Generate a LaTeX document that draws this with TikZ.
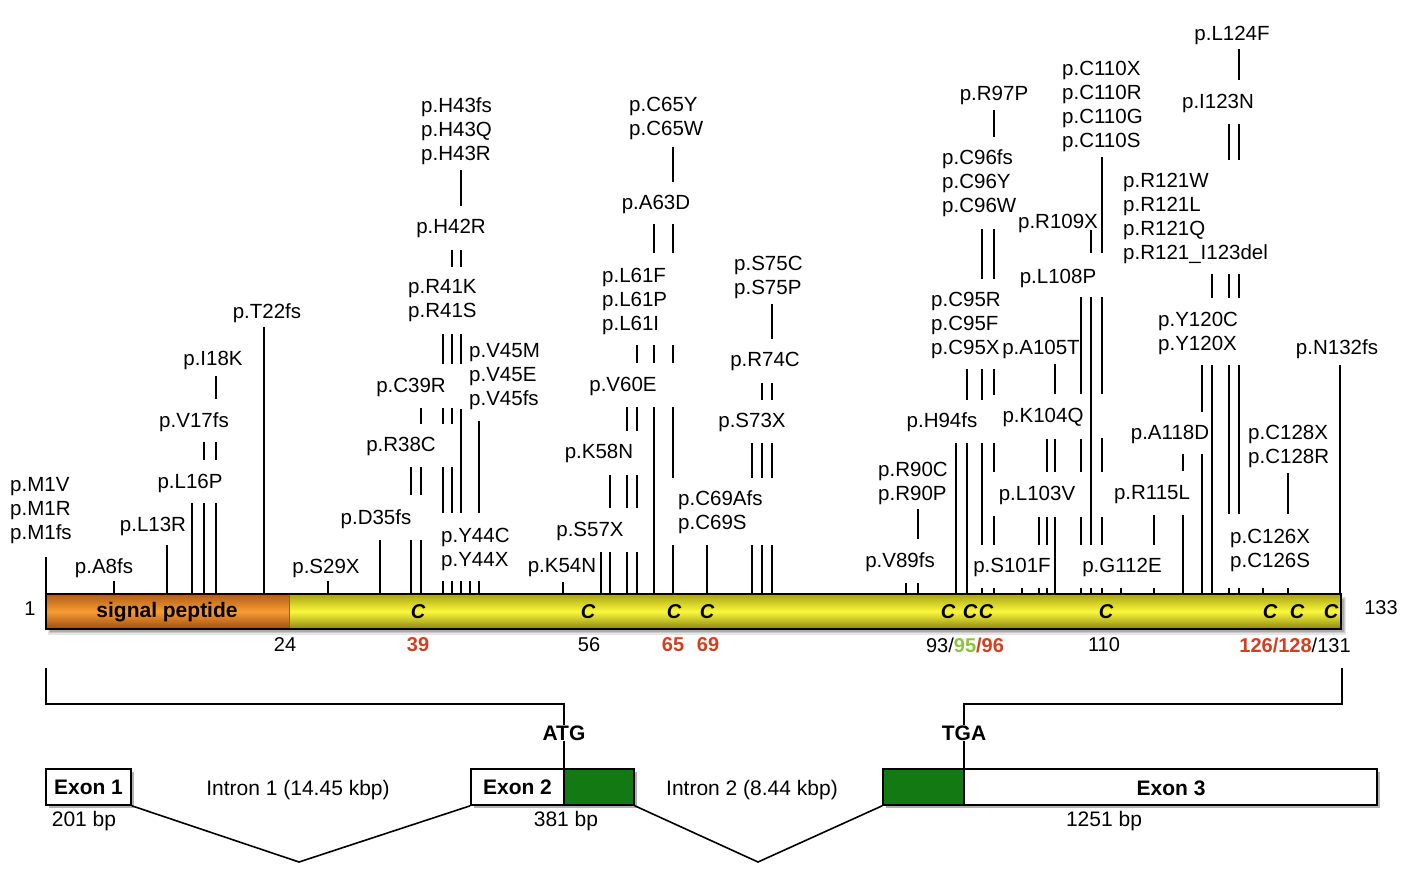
\documentclass[tikz,border=0pt]{standalone}
\usepackage{fontspec}
\setmainfont{Liberation Sans}
\usetikzlibrary{shadows}
\definecolor{redn}{HTML}{D2401F}
\definecolor{greenn}{HTML}{8CC43F}
\definecolor{exg}{HTML}{137A13}
\definecolor{ytop}{HTML}{A8A316}
\definecolor{ymid}{HTML}{FAF83C}
\definecolor{ybot}{HTML}{8C870E}
\definecolor{otop}{HTML}{B05C18}
\definecolor{omid}{HTML}{F89C32}
\definecolor{obot}{HTML}{9C4C10}
\begin{document}
\begin{tikzpicture}[x=1pt,y=-1pt,
  mline/.style={line width=2pt},
  lab/.style={font=\fontsize{20.5}{24}\selectfont, inner sep=0pt, yshift=-2pt},
  mlab/.style={lab, align=left, anchor=west},
  num/.style={font=\fontsize{20}{24}\selectfont, inner sep=0pt},
  rnum/.style={font=\fontsize{20}{24}\selectfont\bfseries, text=redn, inner sep=0pt},
  cys/.style={font=\fontsize{20}{24}\selectfont\bfseries\itshape, inner sep=0pt},
  glab/.style={font=\fontsize{21}{24}\selectfont, inner sep=0pt},
  gbold/.style={font=\fontsize{21}{24}\selectfont\bfseries, inner sep=0pt},
  exbox/.style={draw, line width=1.6pt, inner sep=0pt, minimum height=36pt,
    drop shadow={shadow xshift=3pt, shadow yshift=-3pt, opacity=0.3, fill=black}},
]
\useasboundingbox[fill=white] (0,0) rectangle (1410,872);

% ---------- mutation pointer lines ----------
\foreach \x/\a/\b in {
46/557/594, 113.5/581/594, 167/545/594, 192/503/594, 204/503/594, 204/442/460,
216/503/594, 216/442/460, 216/376/399, 264/327/594, 328/581/594,
380/540/594, 411/540/594, 411/467/495, 421/540/594, 421/467/495, 421/408/424,
443/581/594, 443/467/513, 443/408/424, 443/334/364,
452/581/594, 452/467/513, 452/408/424, 452/334/364, 452/250/267,
461/581/594, 461/409/513, 461/334/364, 461/250/267, 461/170/206,
470/581/594, 479/581/594, 479/421/513,
563/582/594, 601/552/594, 610/552/594, 610/475/508,
627/552/594, 627/475/508, 627/407/431,
637/552/594, 637/475/508, 637/407/431, 637/345/363,
654/407/594, 654/345/363, 654/224/253,
673/545/594, 673/407/478, 673/345/363, 673/224/253, 673/147/182,
707/545/594,
752/545/594, 752/443/478, 762/545/594, 762/443/478, 762/383/400,
772/545/594, 772/443/478, 772/383/400, 772/304/339,
906/583/594, 918/583/594, 918/509/539,
956/443/594, 967/443/594, 967/369/400,
982/443/545, 982/588/594, 982/369/400, 982/229/279,
994/588/594, 994/516/545, 994/443/472, 994/369/395, 994/229/279, 994/110/137,
1022/588/594, 1039/588/594, 1039/517/545,
1047/588/594, 1047/517/545, 1047/439/472,
1055/517/594, 1055/439/472, 1055/364/394,
1081/588/594, 1081/517/545, 1081/439/472, 1081/297/394,
1091/588/594, 1091/297/545, 1091/230/253,
1102/588/594, 1102/517/545, 1102/438/472, 1102/297/394, 1102/157/253,
1121/588/594, 1154/588/594, 1154/515/545,
1183/515/594, 1183/454/471,
1202/454/594, 1202/365/412,
1212/365/594, 1212/274/298,
1229/588/594, 1229/365/514, 1229/274/298, 1229/124/160,
1239/588/594, 1239/365/514, 1239/274/298, 1239/124/160, 1239/49/80,
1263/588/594, 1288/588/594, 1288/473/514, 1340/365/594}
  \draw[mline] (\x,\a) -- (\x,\b);

% ---------- protein bar ----------
\fill[black,opacity=0.10] (48,597) rectangle (1346,635);
\fill[black,opacity=0.12] (49,598) rectangle (1345,633);
\fill[black,opacity=0.15] (50,599) rectangle (1344,632);
\shade[top color=otop, bottom color=obot, middle color=omid] (46,594) rectangle (289,629);
\shade[top color=ytop, bottom color=ybot, middle color=ymid] (289,594) rectangle (1341,629);
\draw[line width=1pt, black!60] (289,594) -- (289,629);
\draw[line width=2.4pt] (46,594) rectangle (1341,629);
\node[font=\fontsize{21}{24}\selectfont\bfseries, inner sep=0pt] (sp) at (167,612) {signal peptide};

\foreach \x [count=\i] in {418,588,674,707,948,970,986,1106,1270,1297,1331}
  \node[cys] (c\i) at (\x,612) {C};

% ---------- position numbers ----------
\node[num] (n1) at (30,609) {1};
\node[num] (n133) at (1381,608) {133};
\node[num] (n24) at (285,645) {24};
\node[rnum] (n39) at (418,645) {39};
\node[num] (n56) at (589,645) {56};
\node[rnum] (n65) at (673,645) {65};
\node[rnum] (n69) at (708,645) {69};
\node[num] (n93) at (965,645) {93/\textcolor{greenn}{\bfseries 95}\textcolor{redn}{\bfseries /96}};
\node[num] (n110) at (1104,645) {110};
\node[num] (n126) at (1295,645) {\textcolor{redn}{\bfseries 126/128}/131};

% ---------- mutation labels ----------
\node[mlab] (m1) at (10,509) {p.M1V\\p.M1R\\p.M1fs};
\node[lab] (a8) at (104,566) {p.A8fs};
\node[lab] (l13) at (153,524) {p.L13R};
\node[lab] (l16) at (190,481) {p.L16P};
\node[lab] (v17) at (194,420) {p.V17fs};
\node[lab] (i18) at (213,358) {p.I18K};
\node[lab] (t22) at (267,311) {p.T22fs};
\node[lab] (s29) at (326,566) {p.S29X};
\node[lab] (d35) at (376,517) {p.D35fs};
\node[lab] (r38) at (401,444) {p.R38C};
\node[lab] (c39) at (411,385) {p.C39R};
\node[mlab] (r41) at (408,299) {p.R41K\\p.R41S};
\node[lab] (h42) at (451,226) {p.H42R};
\node[mlab] (h43) at (421,129) {p.H43fs\\p.H43Q\\p.H43R};
\node[mlab] (y44) at (441,547) {p.Y44C\\p.Y44X};
\node[mlab] (v45) at (469,375) {p.V45M\\p.V45E\\p.V45fs};
\node[lab] (k54) at (562,566) {p.K54N};
\node[lab] (s57) at (590,529) {p.S57X};
\node[lab] (k58) at (599,451) {p.K58N};
\node[lab] (v60) at (623,384) {p.V60E};
\node[mlab] (l61) at (602,299) {p.L61F\\p.L61P\\p.L61I};
\node[lab] (a63) at (656,202) {p.A63D};
\node[mlab] (c65) at (629,116) {p.C65Y\\p.C65W};
\node[mlab] (c69) at (678,510) {p.C69Afs\\p.C69S};
\node[lab] (s73) at (752,420) {p.S73X};
\node[lab] (r74) at (765,359) {p.R74C};
\node[mlab] (s75) at (734,275) {p.S75C\\p.S75P};
\node[lab] (v89) at (900,560) {p.V89fs};
\node[mlab] (r90) at (878,481) {p.R90C\\p.R90P};
\node[lab] (h94) at (942,420) {p.H94fs};
\node[mlab] (c95) at (931,323) {p.C95R\\p.C95F\\p.C95X};
\node[mlab] (c96) at (942,181) {p.C96fs\\p.C96Y\\p.C96W};
\node[lab] (r97) at (994,93) {p.R97P};
\node[lab] (s101) at (1012,565) {p.S101F};
\node[lab] (l103) at (1037,493) {p.L103V};
\node[lab] (k104) at (1043,415) {p.K104Q};
\node[lab] (a105) at (1041,347) {p.A105T};
\node[lab] (l108) at (1058,276) {p.L108P};
\node[lab] (r109) at (1058,221) {p.R109X};
\node[mlab] (c110) at (1062,104) {p.C110X\\p.C110R\\p.C110G\\p.C110S};
\node[lab] (g112) at (1122,565) {p.G112E};
\node[lab] (r115) at (1152,493) {p.R115L};
\node[lab] (a118) at (1170,432) {p.A118D};
\node[mlab] (y120) at (1158,331) {p.Y120C\\p.Y120X};
\node[mlab] (r121) at (1123,216) {p.R121W\\p.R121L\\p.R121Q\\p.R121\_I123del};
\node[lab] (i123) at (1218,101) {p.I123N};
\node[lab] (l124) at (1232,33) {p.L124F};
\node[mlab] (c126) at (1230,548) {p.C126X\\p.C126S};
\node[mlab] (c128) at (1248,444) {p.C128X\\p.C128R};
\node[lab] (n132) at (1337,347) {p.N132fs};

% ---------- gene structure ----------
\node[exbox, fill=white, minimum width=85pt] (e1) at (88.5,787) {\fontsize{21}{24}\selectfont\bfseries Exon 1};
\node[exbox, fill=white, minimum width=93pt] (e2a) at (517.5,787) {\fontsize{21}{24}\selectfont\bfseries Exon 2};
\node[exbox, fill=exg, minimum width=70pt] (e2b) at (599,787) {};
\node[exbox, fill=exg, minimum width=81pt] (e3a) at (923.5,787) {};
\node[exbox, fill=white, minimum width=413pt] (e3b) at (1170.5,787) {};
\node[gbold] (ex3) at (1171,788) {Exon 3};

\node[gbold] (atg) at (564,733) {ATG};
\node[gbold] (tga) at (964,733) {TGA};
\coordinate (bl) at (46,668);
\coordinate (br) at (1342,668);
\draw[line width=2pt] (bl) -- (46,704) -| (atg.north);
\draw[line width=2pt] (br) -- (1342,704) -| (tga.north);
\draw[line width=2pt] (atg.south) -- (atg.south |- e2a.north);
\draw[line width=2pt] (tga.south) -- (tga.south |- e3b.north);

\coordinate (i1) at (299,862);
\coordinate (i2) at (758,862);
\draw[line width=1.6pt] (e1.south east) -- (i1) -- (e2a.south west);
\draw[line width=1.6pt] (e2b.south east) -- (i2) -- (e3a.south west);

\node[glab] (in1) at (298,790) {Intron 1 (14.45 kbp)};
\node[glab] (in2) at (752,790) {Intron 2 (8.44 kbp)};
\node[glab] (bp1) at (84,821) {201 bp};
\node[glab] (bp2) at (566,821) {381 bp};
\node[glab] (bp3) at (1104,821) {1251 bp};
\end{tikzpicture}
\end{document}
